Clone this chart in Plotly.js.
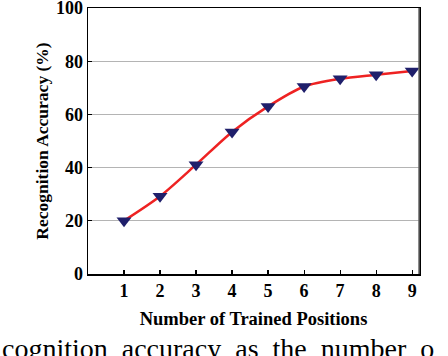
<!DOCTYPE html>
<html>
<head>
<meta charset="utf-8">
<script src="https://cdn.plot.ly/plotly-3.0.1.min.js"></script>
<style>
  html, body { margin: 0; padding: 0; background: #fff; }
  #chart { width: 448px; height: 356px; }
</style>
</head>
<body>
<div id="chart"></div>
<script>
// number of trained positions vs recognition accuracy
const positions = [1, 2, 3, 4, 5, 6, 7, 8, 9];
const accuracy = [20.0, 29.2, 41.1, 53.4, 63.0, 70.5, 73.4, 74.9, 76.3];
const yTicks = [0, 20, 40, 60, 80, 100];

const serif = "Liberation Serif, Times New Roman, serif";

const trace = {
  type: "scatter",
  mode: "lines+markers",
  x: positions,
  y: accuracy,
  line: { color: "#ee2222", width: 2.5, shape: "spline", smoothing: 0.8 },
  marker: { symbol: "triangle-down", size: 13, color: "#1f1f6b" },
  cliponaxis: false,
  showlegend: false
};

const layout = {
  width: 448,
  height: 356,
  margin: { l: 88, r: 29, t: 8, b: 82 },
  paper_bgcolor: "#fff",
  plot_bgcolor: "#fff",
  font: { family: serif, color: "#000" },
  xaxis: {
    range: [0, 9.19],
    tickvals: positions,
    ticktext: positions.map(String),
    ticks: "inside",
    ticklen: 4,
    tickwidth: 1.2,
    tickcolor: "#000",
    showgrid: false,
    zeroline: false,
    showline: true,
    linecolor: "#000",
    linewidth: 1.5,
    mirror: true,
    ticklabeloverflow: "allow",
    tickfont: { family: serif, size: 18, color: "#000", weight: "bold" },
    title: { text: "<b>Number of Trained Positions</b>", font: { family: serif, size: 18.5 }, standoff: 12 }
  },
  yaxis: {
    range: [0, 100],
    tickvals: yTicks,
    ticktext: yTicks.map(String),
    ticks: "inside",
    ticklen: 4,
    tickwidth: 1.2,
    tickcolor: "#000",
    showgrid: true,
    gridcolor: "#b4b4b4",
    gridwidth: 1,
    zeroline: false,
    showline: true,
    linecolor: "#000",
    linewidth: 1.5,
    mirror: true,
    ticklabeloverflow: "allow",
    tickfont: { family: serif, size: 18, color: "#000", weight: "bold" },
    title: { text: "<b>Recognition Accuracy (%)</b>", font: { family: serif, size: 17.5 }, standoff: 3 }
  },
  shapes: [
    { type: "line", xref: "paper", yref: "paper", x0: 1, x1: 1, y0: 0, y1: 1,
      line: { color: "#666", width: 1.5 } }
  ],
  annotations: [
    {
      xref: "paper", yref: "paper", x: -0.266, y: -0.215,
      xanchor: "left", yanchor: "top", showarrow: false,
      text: "cognition&nbsp;&nbsp;accuracy&nbsp;&nbsp;as&nbsp;&nbsp;the&nbsp;&nbsp;number&nbsp;&nbsp;o",
      font: { family: serif, size: 28, color: "#000" }
    }
  ]
};

Plotly.newPlot("chart", [trace], layout, { displayModeBar: false, staticPlot: true });
</script>
</body>
</html>
